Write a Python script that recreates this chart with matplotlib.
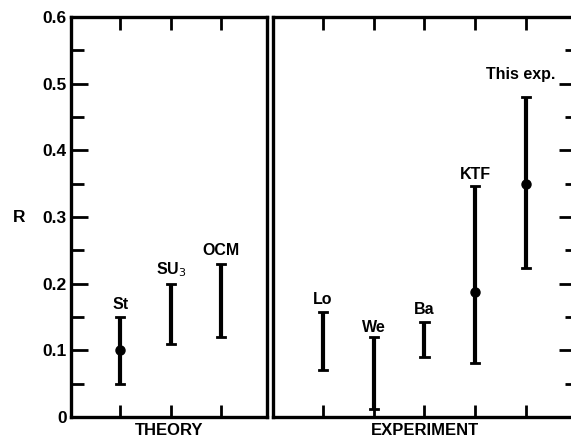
import matplotlib
matplotlib.use("Agg")
import matplotlib.pyplot as plt
import numpy as np

plt.rcParams['font.family'] = ['Liberation Sans', 'DejaVu Sans']

theory_labels = ["St", "SU$_3$", "OCM"]
theory_low = [0.05, 0.11, 0.12]
theory_high = [0.15, 0.20, 0.23]
theory_center = [0.10, None, None]

exp_labels = ["Lo", "We", "Ba", "KTF", "This exp."]
exp_low = [0.07, 0.012, 0.09, 0.081, 0.224]
exp_high = [0.158, 0.12, 0.142, 0.347, 0.48]
exp_center = [None, None, None, 0.187, 0.349]

yticks = [0, 0.1, 0.2, 0.3, 0.4, 0.5, 0.6]
ytick_labels = ["0", "0.1", "0.2", "0.3", "0.4", "0.5", "0.6"]

W, H = 571, 442
fig = plt.figure(figsize=(W/100, H/100), dpi=100)

def fx(px): return px / W
def fy(py): return 1 - py / H

ax1 = fig.add_axes([fx(71), fy(417), fx(267) - fx(71), fy(17) - fy(417)])
ax2 = fig.add_axes([fx(273), fy(417), fx(577) - fx(273), fy(17) - fy(417)])

lw_sp = 2.4
for ax in (ax1, ax2):
    ax.set_ylim(0, 0.6)
    for s in ax.spines.values():
        s.set_linewidth(lw_sp)

def draw(ax, xs, lo, hi, ce, labels, label_y, label_dx):
    for x, l, h, c, lab, ly, dx in zip(xs, lo, hi, ce, labels, label_y, label_dx):
        ax.plot([x, x], [l, h], color='black', lw=3, solid_capstyle='butt')
        ax.plot([x - 0.08, x + 0.08], [l, l], color='black', lw=2)
        ax.plot([x - 0.08, x + 0.08], [h, h], color='black', lw=2)
        if c is not None:
            ax.plot([x], [c], 'o', color='black', ms=6.5)
        ax.text(x + dx, ly, lab, ha='center', va='bottom', fontsize=11.5,
                fontweight='bold')

# Left panel
tx = [1, 2, 3]
ax1.set_xlim(0.03, 3.9)
draw(ax1, tx, theory_low, theory_high, theory_center, theory_labels,
     [0.157, 0.207, 0.238], [0, 0, 0])
ax1.set_yticks(yticks)
ax1.set_yticklabels(ytick_labels, fontsize=12.5, fontweight='bold')
ax1.set_yticks(np.arange(0.05, 0.6, 0.1), minor=True)
ax1.tick_params(axis='y', which='major', direction='in', length=12, width=2, left=True, right=False, pad=3)
ax1.tick_params(axis='y', which='minor', direction='in', length=9, width=2, left=True, right=False)
ax1.set_xticks(tx)
ax1.set_xticklabels([])
ax1.tick_params(axis='x', direction='in', length=9, width=2, top=True, bottom=True)
ax1.set_xlabel("THEORY", fontsize=12, fontweight='bold', labelpad=1)
ax1.set_ylabel("R", fontsize=12.5, fontweight='bold', rotation=0, va='center', ha='center')
ax1.yaxis.set_label_coords(-0.265, 0.5)

# Right panel
ex = [1, 2, 3, 4, 5]
ax2.set_xlim(0.02, 6.0)
draw(ax2, ex, exp_low, exp_high, exp_center, exp_labels,
     [0.165, 0.123, 0.15, 0.353, 0.503], [0, 0, 0, 0, -0.11])
ax2.set_xticks(ex)
ax2.set_xticklabels([])
ax2.tick_params(axis='x', direction='in', length=9, width=2, top=True, bottom=True)
ax2.set_yticks(yticks)
ax2.set_yticklabels([])
ax2.set_yticks(np.arange(0.05, 0.6, 0.1), minor=True)
ax2.tick_params(axis='y', which='major', direction='in', length=13, width=2, left=False, right=True)
ax2.tick_params(axis='y', which='minor', direction='in', length=9, width=2, left=False, right=True)
ax2.set_xlabel("EXPERIMENT", fontsize=12, fontweight='bold', labelpad=1)

fig.savefig("out.png", dpi=100)
